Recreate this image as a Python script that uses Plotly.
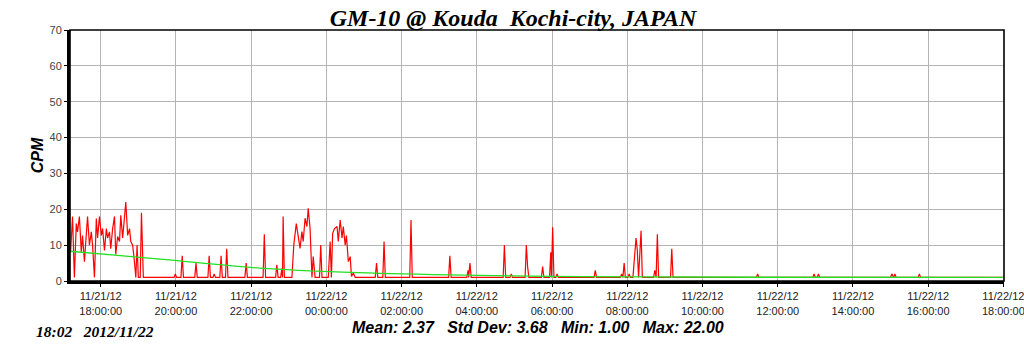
import plotly.graph_objects as go

# ---------------- data ----------------
TITLE = "GM-10 @ Kouda\u00a0 Kochi-city, JAPAN"
STAMP = "18:02\u00a0\u00a0 2012/11/22"
STATS = "Mean: 2.37\u00a0\u00a0 Std Dev: 3.68\u00a0\u00a0 Min: 1.00\u00a0\u00a0 Max: 22.00"

# readings on 2012-11-21
red_time_d1 = [
    "17:12", "17:15", "17:18", "17:21", "17:23", "17:26", "17:29", "17:31", "17:34", "17:37",
    "17:39", "17:42", "17:45", "17:47", "17:50", "17:53", "17:55", "17:58", "18:01", "18:03",
    "18:06", "18:09", "18:11", "18:14", "18:16", "18:19", "18:22", "18:24", "18:27", "18:30",
    "18:32", "18:35", "18:38", "18:40", "18:43", "18:46", "18:48", "18:51", "18:54", "18:56",
    "18:58", "19:00", "19:03", "19:05", "19:08",
    "19:57", "19:59", "20:01", "20:08", "20:10", "20:12", "20:30", "20:32", "20:34",
    "20:51", "20:53", "20:55", "20:59", "21:01", "21:03", "21:10", "21:12", "21:14",
    "21:19", "21:21", "21:23", "21:50", "21:52", "21:54", "22:19", "22:21", "22:23",
    "22:39", "22:41", "22:43", "22:47", "22:49", "22:50", "22:51", "22:53",
    "23:05", "23:08", "23:12", "23:15", "23:18", "23:21", "23:23", "23:26", "23:29", "23:31",
    "23:34", "23:37", "23:39", "23:42", "23:49", "23:51", "23:53",
]
red_cpm_d1 = [
    8, 18, 1, 16, 13.7, 18, 8, 12.7, 5.4, 12,
    18, 10, 13.7, 10, 1, 17.4, 12, 18, 12.7, 14.6,
    8.5, 14.6, 12, 13.7, 9, 14.6, 18, 7.4, 12.4, 11,
    18.3, 12, 18.8, 22, 12.7, 14.6, 11, 10, 5, 1,
    10, 1, 1, 19, 1,
    1, 2, 1, 1, 7, 1, 1, 5, 1,
    1, 7, 1, 1, 2, 1, 1, 7, 1,
    1, 9, 1, 1, 5, 1, 1, 13, 1,
    1, 4.5, 1, 1, 3.5, 1, 18, 1,
    1, 10, 16, 12.7, 9.1, 13.8, 11, 17.5, 15.2, 20.3,
    14.6, 1, 6.8, 1, 1, 10, 1,
]

# readings on 2012-11-22
red_time_d2 = [
    "00:03", "00:06", "00:08", "00:10", "00:13", "00:17", "00:19", "00:22", "00:25", "00:27",
    "00:30", "00:32", "00:35", "00:38", "00:40", "00:43", "00:46",
    "01:18", "01:20", "01:22", "01:30", "01:32", "01:34", "02:13", "02:15", "02:17",
    "03:15", "03:17", "03:19", "03:44", "03:46", "03:47", "03:49", "03:51",
    "04:42", "04:44", "04:46", "04:53", "04:55", "04:57",
    "05:17", "05:19", "05:21", "05:23", "05:43", "05:45", "05:47",
    "05:56", "05:58", "05:59", "06:01", "06:03", "06:06", "06:08", "06:10",
    "07:07", "07:09", "07:11", "07:49", "07:51", "07:53", "07:55", "07:57",
    "08:01", "08:03", "08:05", "08:09", "08:11", "08:14", "08:16", "08:18", "08:22", "08:24",
    "08:42", "08:44", "08:46", "08:48", "08:50", "09:09", "09:11", "09:13",
    "11:26", "11:28", "11:30", "12:56", "12:58", "13:00", "13:03", "13:05", "13:07",
    "15:00", "15:02", "15:04", "15:05", "15:07", "15:09", "15:44", "15:46", "15:48",
    "18:02",
]
red_cpm_d2 = [
    1, 11, 1, 13.3, 14.6, 15.2, 11, 17, 12, 15.2,
    10, 12.7, 5.4, 6.8, 1.3, 2.2, 1,
    1, 5, 1, 1, 11, 1, 1, 17, 1,
    1, 7, 1, 1, 3, 1, 5, 1,
    1, 10, 1, 1, 2, 1,
    1, 10, 4, 1, 1, 4, 1,
    1, 8, 1, 15, 1, 1, 2, 1,
    1, 3, 1, 1, 2, 1, 5, 1,
    1, 2, 1, 1, 5, 12, 8.6, 1, 14, 1,
    1, 3, 1, 13, 1, 1, 9, 1,
    1, 2, 1, 1, 2, 1, 1, 2, 1,
    1, 2, 1, 1, 2, 1, 1, 2, 1,
    1,
]

# green trend line
trend_time = ["2012-11-21 17:11", "2012-11-21 19:35", "2012-11-21 22:14", "2012-11-22 00:38",
              "2012-11-22 03:17", "2012-11-22 05:57", "2012-11-22 08:37", "2012-11-22 11:32",
              "2012-11-22 18:01"]
trend_cpm = [8.3, 6.1, 3.6, 2.4, 1.7, 1.3, 1.15, 1.05, 1.0]

x_range = ["2012-11-21 17:11", "2012-11-22 18:01"]
y_range = [0, 70]

red_time = ["2012-11-21 " + t for t in red_time_d1] + ["2012-11-22 " + t for t in red_time_d2]
red_cpm = red_cpm_d1 + red_cpm_d2

# ---------------- figure ----------------
fig = go.Figure()
fig.add_trace(go.Scatter(x=red_time, y=red_cpm, mode="lines",
                         line=dict(color="#ff0000", width=1.2), hoverinfo="skip"))
fig.add_trace(go.Scatter(x=trend_time, y=trend_cpm, mode="lines",
                         line=dict(color="#22e022", width=1.3, shape="spline"), hoverinfo="skip"))

fig.update_layout(
    width=1024, height=351,
    margin=dict(l=70, r=20, t=30, b=70, autoexpand=False),
    paper_bgcolor="white", plot_bgcolor="white",
    showlegend=False,
    font=dict(family="Liberation Sans, Arial, sans-serif", color="#222"),
    title=dict(text="<b><i>" + TITLE + "</i></b>", x=0.501, xanchor="center",
               y=0.95, yanchor="middle",
               font=dict(family="Liberation Serif, Times New Roman, serif", size=24, color="#000")),
)
fig.update_xaxes(
    range=x_range, type="date",
    dtick=2 * 3600 * 1000, tick0="2012-11-21 18:00",
    tickformat="%m/%d/%y<br>%H:%M:%S",
    tickfont=dict(size=11, color="#222"),
    ticks="outside", ticklen=3, tickcolor="#000",
    ticklabeloverflow="allow", automargin=False,
    showgrid=True, gridcolor="#b4b4b4", gridwidth=1,
    showline=True, linecolor="#000", linewidth=3,
    zeroline=False,
)
fig.update_yaxes(
    range=y_range, dtick=10,
    tickfont=dict(size=11, color="#444"),
    ticks="outside", ticklen=3, tickcolor="#000",
    automargin=False,
    showgrid=True, gridcolor="#b4b4b4", gridwidth=1,
    showline=True, linecolor="#000", linewidth=3,
    zeroline=False,
    title=dict(text="<b><i>CPM</i></b>", standoff=2,
               font=dict(family="Liberation Sans, Arial, sans-serif", size=16, color="#000")),
)
fig.add_shape(type="rect", xref="paper", yref="paper", x0=0, x1=1, y0=0, y1=1,
              line=dict(color="#000", width=1.6), layer="above")

fig.add_annotation(text="<b><i>" + STAMP + "</i></b>", xref="paper", yref="paper",
                   x=(34 - 70) / 934, y=(281 - 331) / 251, xanchor="left", yanchor="middle",
                   showarrow=False,
                   font=dict(family="Liberation Serif, Times New Roman, serif", size=15.5, color="#000"))
fig.add_annotation(text="<b><i>" + STATS + "</i></b>", xref="paper", yref="paper",
                   x=(538 - 70) / 934, y=(281 - 327) / 251, xanchor="center", yanchor="middle",
                   showarrow=False,
                   font=dict(family="Liberation Sans, Arial, sans-serif", size=16, color="#000"))

fig.write_html("out.html")
